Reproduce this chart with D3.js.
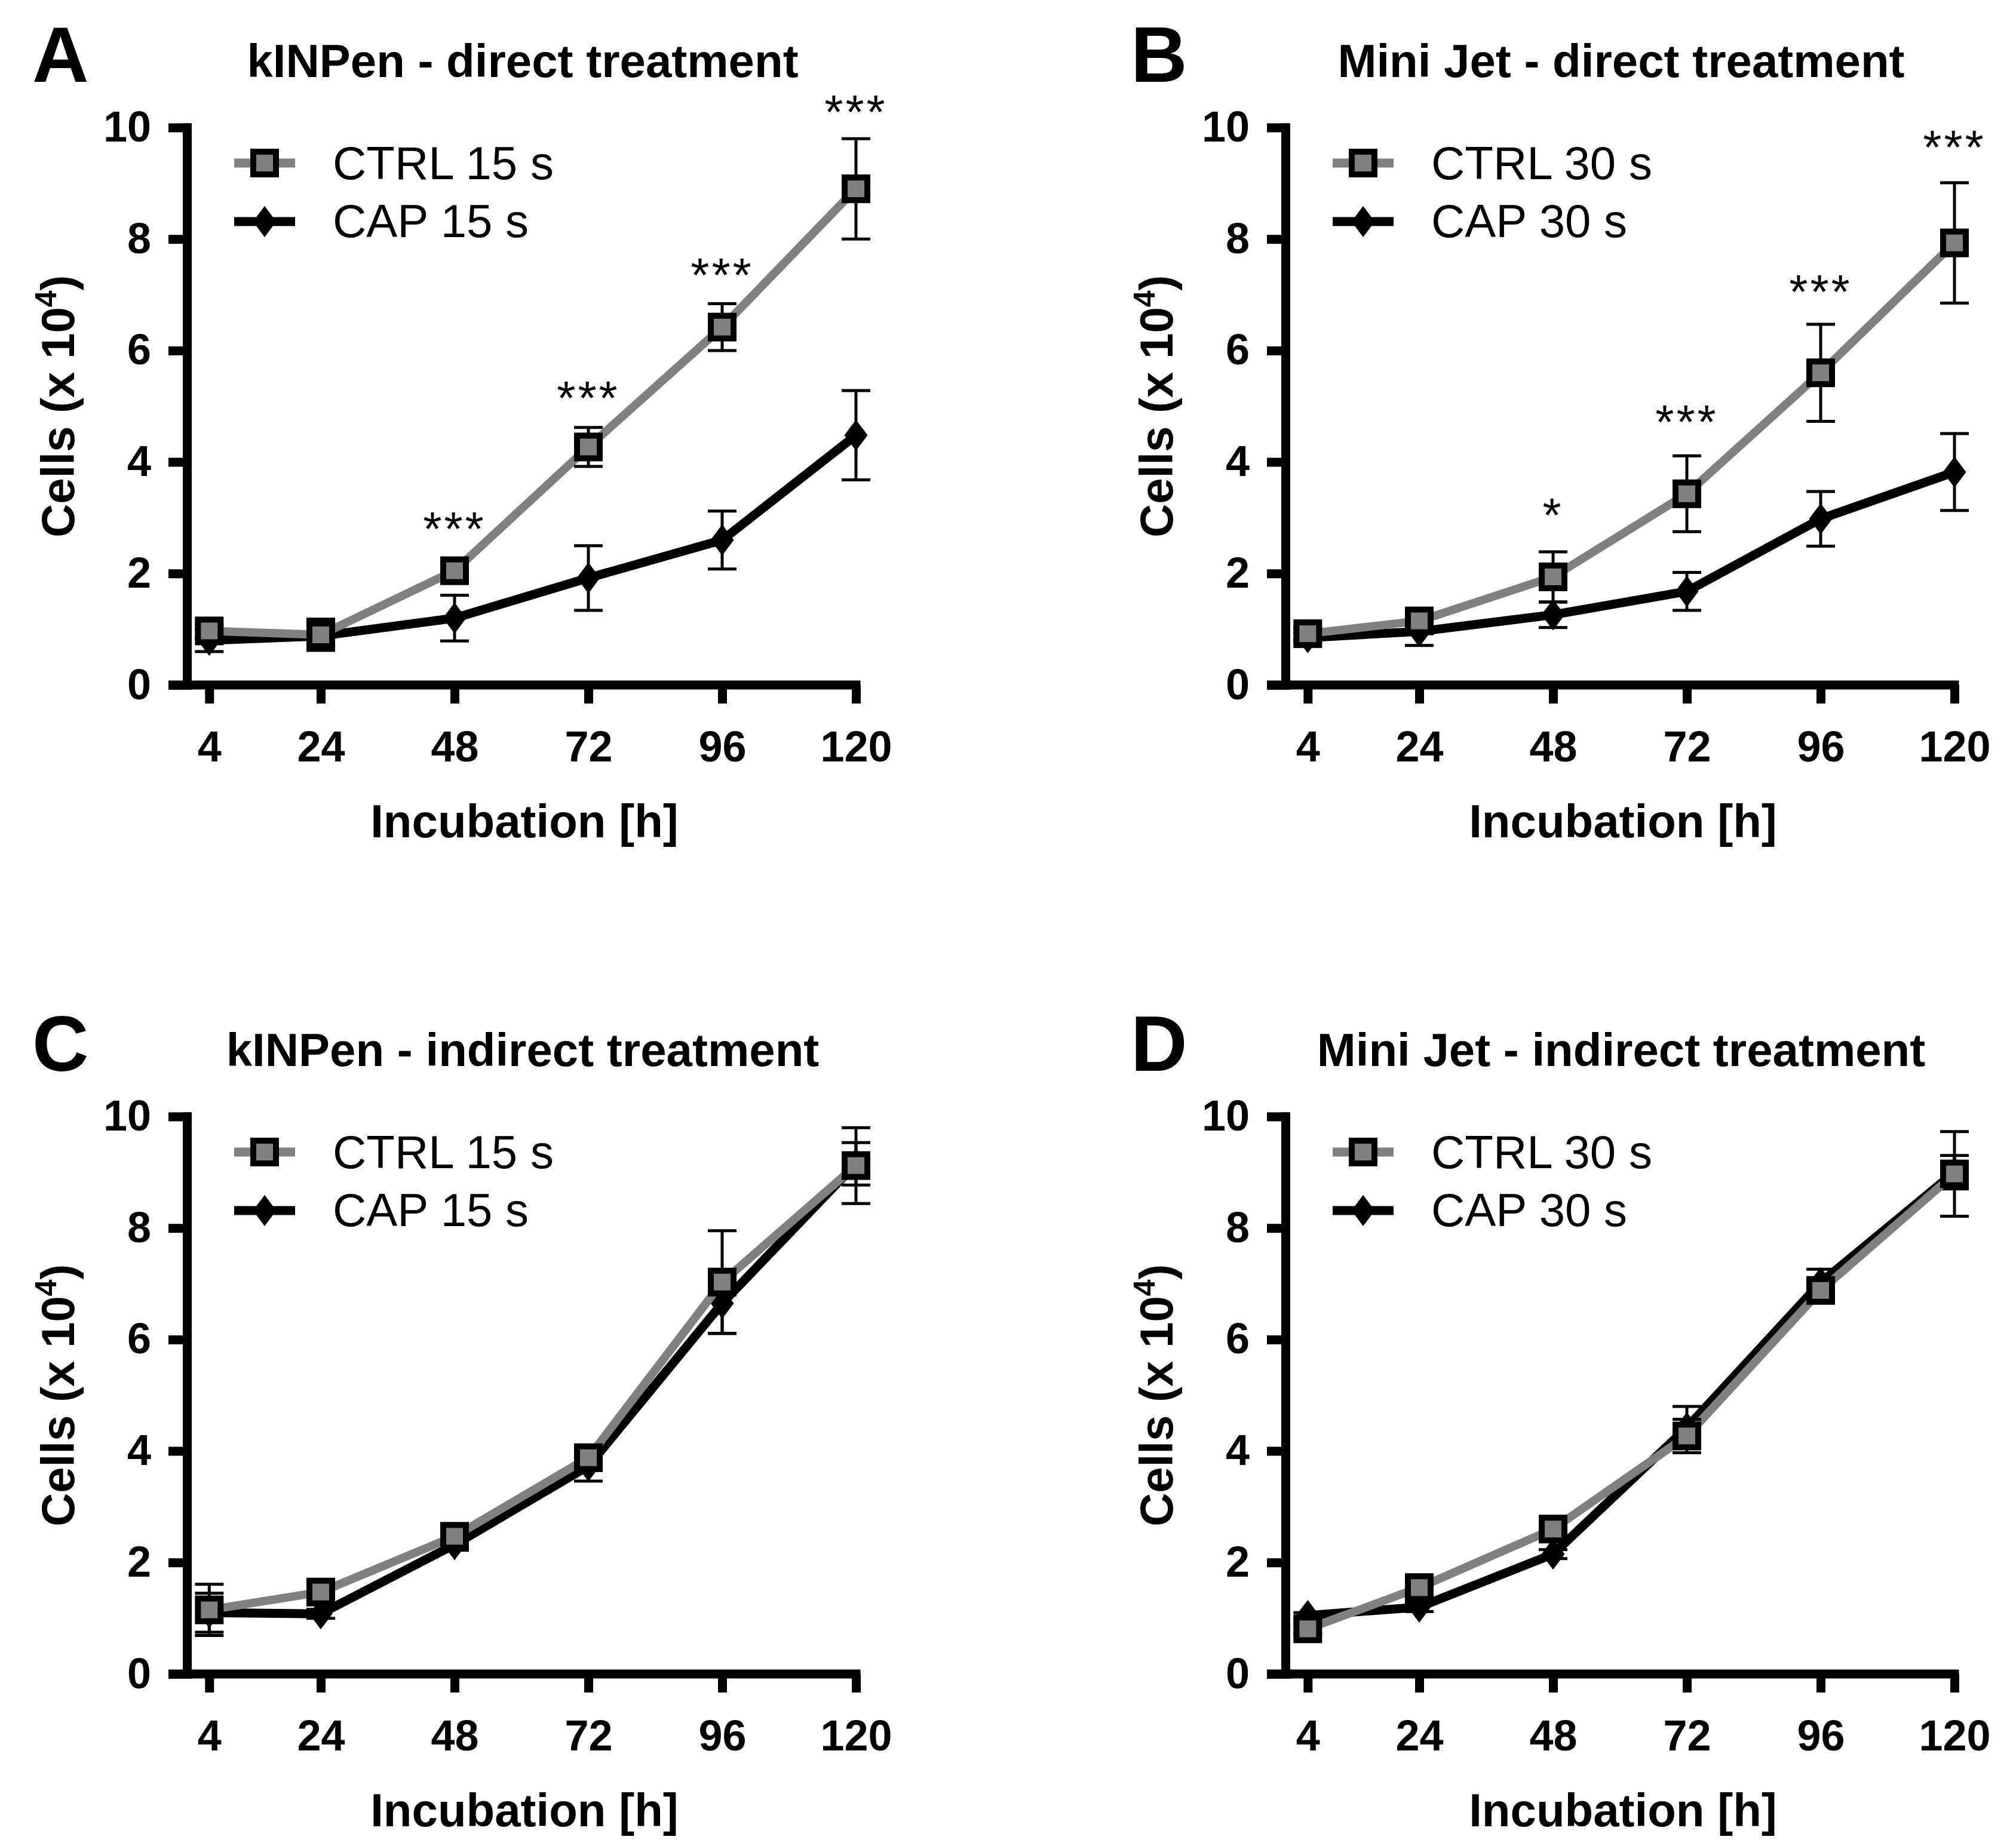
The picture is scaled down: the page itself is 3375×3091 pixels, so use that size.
<!DOCTYPE html>
<html>
<head>
<meta charset="utf-8">
<script src="https://cdn.jsdelivr.net/npm/d3@7"></script>
<style>
  body { margin: 0; background: #fff; }
  svg { display: block; }
  text { font-family: "Liberation Sans", Arial, sans-serif; fill: #000; }
</style>
</head>
<body>
<div id="chart"></div>
<script>
// incubation times (x axis)
const hours = [4, 24, 48, 72, 96, 120];
const yTicks = [0, 2, 4, 6, 8, 10];

const letters = ["A", "B", "C", "D"];
const titles = [
  "kINPen - direct treatment",
  "Mini Jet - direct treatment",
  "kINPen - indirect treatment",
  "Mini Jet - indirect treatment"
];
const ctrlNames = ["CTRL 15 s", "CTRL 30 s", "CTRL 15 s", "CTRL 30 s"];
const capNames = ["CAP 15 s", "CAP 30 s", "CAP 15 s", "CAP 30 s"];

// cells (x 10^4), mean and error per time point
const ctrlA = [0.97, 0.9, 2.05, 4.27, 6.42, 8.9];
const ctrlErrA = [0.12, 0.28, 0.1, 0.35, 0.42, 0.9];
const capA = [0.8, 0.88, 1.2, 1.92, 2.6, 4.48];
const capErrA = [0.2, 0.1, 0.41, 0.58, 0.52, 0.8];

const ctrlB = [0.92, 1.15, 1.94, 3.43, 5.6, 7.93];
const ctrlErrB = [0.1, 0.12, 0.45, 0.68, 0.87, 1.08];
const capB = [0.85, 0.96, 1.26, 1.68, 2.98, 3.82];
const capErrB = [0.08, 0.25, 0.23, 0.34, 0.49, 0.69];

const ctrlC = [1.15, 1.47, 2.47, 3.88, 7.03, 9.12];
const ctrlErrC = [0.46, 0.1, 0.1, 0.15, 0.92, 0.68];
const capC = [1.1, 1.08, 2.32, 3.73, 6.65, 9.15];
const capErrC = [0.35, 0.08, 0.1, 0.27, 0.54, 0.38];

const ctrlD = [0.81, 1.55, 2.6, 4.27, 6.88, 8.97];
const ctrlErrD = [0.08, 0.1, 0.1, 0.3, 0.15, 0.76];
const capD = [1.05, 1.2, 2.15, 4.42, 7.02, 9.0];
const capErrD = [0.05, 0.08, 0.08, 0.38, 0.24, 0.3];

// significance marks: hour, label, y position (data units)
const starsA = [[48, "***", 3.0], [72, "***", 5.35], [96, "***", 7.55], [120, "***", 10.48]];
const starsB = [[48, "*", 3.25], [72, "***", 4.92], [96, "***", 7.25], [120, "***", 9.84]];
const starsC = [];
const starsD = [];

const panels = [
  { ctrl: ctrlA, ctrlErr: ctrlErrA, cap: capA, capErr: capErrA, stars: starsA },
  { ctrl: ctrlB, ctrlErr: ctrlErrB, cap: capB, capErr: capErrB, stars: starsB },
  { ctrl: ctrlC, ctrlErr: ctrlErrC, cap: capC, capErr: capErrC, stars: starsC },
  { ctrl: ctrlD, ctrlErr: ctrlErrD, cap: capD, capErr: capErrD, stars: starsD }
];

const W = 3375, H = 3091;
const grey = "#808080";
const offX = [0, 1839], offY = [0, 1656];

const svg = d3.select("#chart").append("svg")
  .attr("width", W).attr("height", H);

const x = d3.scaleLinear().domain([0, 120]).range([313, 1433]);
const y = d3.scaleLinear().domain([0, 10]).range([1147, 213.5]);

const diamond = "M0,-26L19.5,0L0,26L-19.5,0Z";

panels.forEach((p, i) => {
  const g = svg.append("g")
    .attr("transform", `translate(${offX[i % 2]},${offY[Math.floor(i / 2)]})`);

  // panel letter + title
  g.append("text").attr("x", 54).attr("y", 137)
    .attr("font-size", 131).attr("font-weight", "bold").text(letters[i]);
  g.append("text").attr("x", 875).attr("y", 129)
    .attr("text-anchor", "middle").attr("font-size", 78).attr("font-weight", "bold")
    .text(titles[i]);

  // y axis
  const ya = g.append("g").attr("transform", `translate(${x(0)},0)`)
    .call(d3.axisLeft(y).tickValues(yTicks).tickSize(31).tickSizeOuter(0).tickPadding(29));
  ya.select(".domain").attr("stroke-width", 15).attr("stroke-linecap", "square");
  ya.selectAll(".tick line").attr("stroke-width", 15).attr("x1", 7.5);
  ya.selectAll(".tick text").attr("font-size", 72).attr("font-weight", "bold")
    .attr("font-family", '"Liberation Sans", Arial, sans-serif');

  // x axis
  const xa = g.append("g").attr("transform", `translate(0,${y(0)})`)
    .call(d3.axisBottom(x).tickValues(hours).tickSize(31).tickSizeOuter(0).tickPadding(46));
  xa.select(".domain").remove();
  xa.selectAll(".tick line").attr("stroke-width", 15);
  xa.selectAll(".tick text").attr("font-size", 72).attr("font-weight", "bold")
    .attr("font-family", '"Liberation Sans", Arial, sans-serif');
  xa.append("line").attr("x1", x(0) - 31).attr("x2", x(120) + 7.5)
    .attr("stroke", "#000").attr("stroke-width", 15);

  // axis titles
  g.append("text").attr("x", 878).attr("y", 1402)
    .attr("text-anchor", "middle").attr("font-size", 78).attr("font-weight", "bold")
    .text("Incubation [h]");
  const yl = g.append("text")
    .attr("transform", `translate(124,${(y(0) + y(10)) / 2}) rotate(-90)`)
    .attr("text-anchor", "middle").attr("font-size", 78).attr("font-weight", "bold");
  yl.append("tspan").text("Cells (x 10");
  yl.append("tspan").attr("font-size", 50).attr("dy", -30).text("4");
  yl.append("tspan").attr("dy", 30).text(")");

  const line = d3.line().x((d, k) => x(hours[k])).y(d => y(d));

  const drawErr = (vals, errs) => {
    const eg = g.append("g").attr("stroke", "#000").attr("stroke-width", 5);
    vals.forEach((v, k) => {
      const cx = x(hours[k]);
      eg.append("line").attr("x1", cx).attr("x2", cx)
        .attr("y1", y(v - errs[k])).attr("y2", y(v + errs[k]));
      [v - errs[k], v + errs[k]].forEach(e => {
        eg.append("line").attr("x1", cx - 24).attr("x2", cx + 24)
          .attr("y1", y(e)).attr("y2", y(e));
      });
    });
  };

  // CAP series (black, diamonds)
  g.append("path").datum(p.cap).attr("d", line)
    .attr("fill", "none").attr("stroke", "#000").attr("stroke-width", 15)
    .attr("stroke-linejoin", "round");
  drawErr(p.cap, p.capErr);
  g.selectAll(".dia").data(p.cap).enter().append("path")
    .attr("d", diamond)
    .attr("transform", (d, k) => `translate(${x(hours[k])},${y(d)})`)
    .attr("fill", "#000");

  // CTRL series (grey, squares)
  g.append("path").datum(p.ctrl).attr("d", line)
    .attr("fill", "none").attr("stroke", grey).attr("stroke-width", 14)
    .attr("stroke-linejoin", "round");
  drawErr(p.ctrl, p.ctrlErr);
  g.selectAll(".sq").data(p.ctrl).enter().append("rect")
    .attr("x", (d, k) => x(hours[k]) - 19).attr("y", d => y(d) - 19)
    .attr("width", 38).attr("height", 38)
    .attr("fill", grey).attr("stroke", "#000").attr("stroke-width", 10);

  // significance
  p.stars.forEach(s => {
    g.append("text").attr("x", x(s[0])).attr("y", y(s[2]) + 46)
      .attr("text-anchor", "middle").attr("font-size", 80).attr("letter-spacing", 4)
      .text(s[1]);
  });

  // legend
  const lg = g.append("g");
  lg.append("line").attr("x1", 392).attr("x2", 494).attr("y1", 273).attr("y2", 273)
    .attr("stroke", grey).attr("stroke-width", 15);
  lg.append("rect").attr("x", 443 - 19).attr("y", 273 - 19).attr("width", 38).attr("height", 38)
    .attr("fill", grey).attr("stroke", "#000").attr("stroke-width", 10);
  lg.append("line").attr("x1", 392).attr("x2", 494).attr("y1", 371).attr("y2", 371)
    .attr("stroke", "#000").attr("stroke-width", 15);
  lg.append("path").attr("d", diamond).attr("transform", "translate(443,371)").attr("fill", "#000");
  lg.append("text").attr("x", 557).attr("y", 300).attr("font-size", 78).text(ctrlNames[i]);
  lg.append("text").attr("x", 557).attr("y", 397).attr("font-size", 78).text(capNames[i]);
});
</script>
</body>
</html>
